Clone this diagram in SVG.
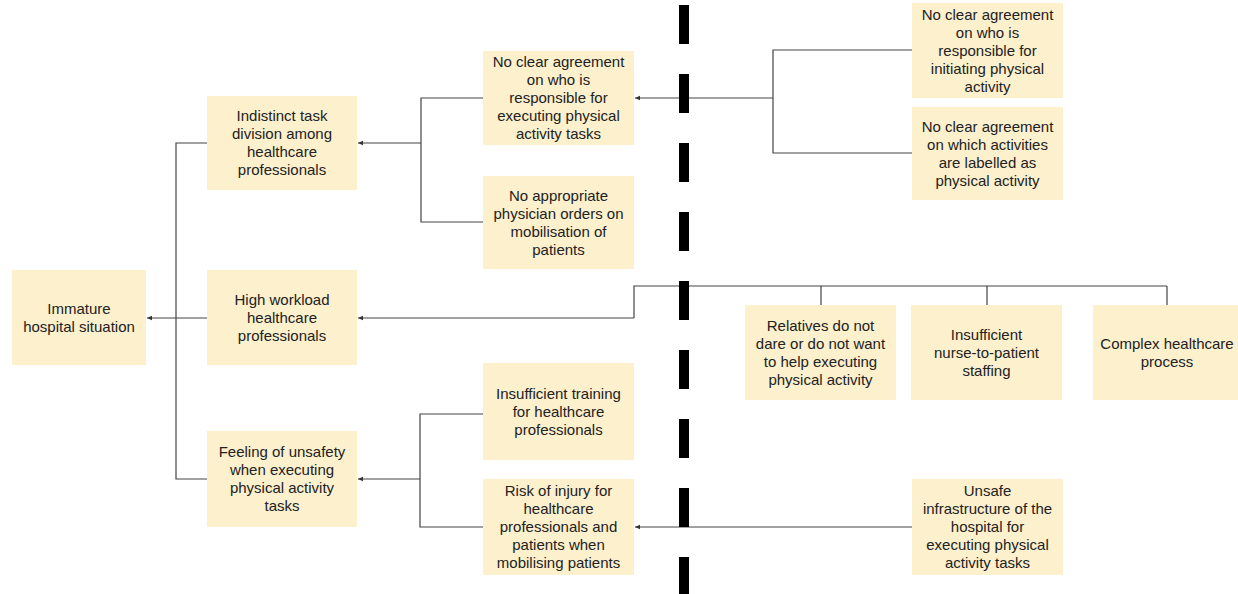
<svg xmlns="http://www.w3.org/2000/svg" width="1238" height="594" viewBox="0 0 1238 594">
<style>
.box{fill:#FCF0CD;}
.t{font-family:"Liberation Sans",Arial,sans-serif;font-size:15px;fill:#222;text-anchor:middle;}
.c{fill:none;stroke:#444;stroke-width:1.2;}
</style>
<defs>
<marker id="ah" markerWidth="6" markerHeight="6" refX="5" refY="3" orient="auto" markerUnits="userSpaceOnUse">
<path d="M0,0.8 L5,3 L0,5.2 Z" fill="#333"/>
</marker>
</defs>
<rect width="1238" height="594" fill="#fff"/>
<g id="connectors">
<path class="c" d="M207,143 H176 V479 H207"/>
<path class="c" d="M207,318 H147" marker-end="url(#ah)"/>
<path class="c" d="M483,98 H421 V222 H483"/>
<path class="c" d="M421,143 H358" marker-end="url(#ah)"/>
<path class="c" d="M912,50 H773 V153 H912"/>
<path class="c" d="M773,98 H635" marker-end="url(#ah)"/>
<path class="c" d="M821,305 V286 M987,305 V286 M1167,305 V286 M1167,286 H634 V318"/>
<path class="c" d="M634,318 H358" marker-end="url(#ah)"/>
<path class="c" d="M483,414 H420 V527 H483"/>
<path class="c" d="M420,479 H358" marker-end="url(#ah)"/>
<path class="c" d="M912,527 H635" marker-end="url(#ah)"/>
</g>
<g id="divider">
<line x1="684" y1="5" x2="684" y2="594" stroke="#000" stroke-width="10" stroke-dasharray="39 30"/>
</g>
<g id="immature">
<rect class="box" x="12" y="270" width="134" height="95"/>
<text class="t" x="79" y="313.5">Immature</text>
<text class="t" x="79" y="331.5">hospital situation</text>
</g>
<g id="indistinct">
<rect class="box" x="207" y="96" width="150" height="94"/>
<text class="t" x="282" y="121">Indistinct task</text>
<text class="t" x="282" y="139">division among</text>
<text class="t" x="282" y="157">healthcare</text>
<text class="t" x="282" y="175">professionals</text>
</g>
<g id="workload">
<rect class="box" x="207" y="270" width="150" height="95"/>
<text class="t" x="282" y="304.5">High workload</text>
<text class="t" x="282" y="322.5">healthcare</text>
<text class="t" x="282" y="340.5">professionals</text>
</g>
<g id="unsafety">
<rect class="box" x="207" y="431" width="150" height="96"/>
<text class="t" x="282" y="457">Feeling of unsafety</text>
<text class="t" x="282" y="475">when executing</text>
<text class="t" x="282" y="493">physical activity</text>
<text class="t" x="282" y="511">tasks</text>
</g>
<g id="executing">
<rect class="box" x="483" y="51" width="151" height="94"/>
<text class="t" x="558.5" y="67">No clear agreement</text>
<text class="t" x="558.5" y="85">on who is</text>
<text class="t" x="558.5" y="103">responsible for</text>
<text class="t" x="558.5" y="121">executing physical</text>
<text class="t" x="558.5" y="139">activity tasks</text>
</g>
<g id="physician">
<rect class="box" x="483" y="176" width="151" height="93"/>
<text class="t" x="558.5" y="200.5">No appropriate</text>
<text class="t" x="558.5" y="218.5">physician orders on</text>
<text class="t" x="558.5" y="236.5">mobilisation of</text>
<text class="t" x="558.5" y="254.5">patients</text>
</g>
<g id="training">
<rect class="box" x="483" y="363" width="151" height="97"/>
<text class="t" x="558.5" y="398.5">Insufficient training</text>
<text class="t" x="558.5" y="416.5">for healthcare</text>
<text class="t" x="558.5" y="434.5">professionals</text>
</g>
<g id="injury">
<rect class="box" x="483" y="479" width="151" height="96"/>
<text class="t" x="558.5" y="496">Risk of injury for</text>
<text class="t" x="558.5" y="514">healthcare</text>
<text class="t" x="558.5" y="532">professionals and</text>
<text class="t" x="558.5" y="550">patients when</text>
<text class="t" x="558.5" y="568">mobilising patients</text>
</g>
<g id="initiating">
<rect class="box" x="912" y="3" width="151" height="95"/>
<text class="t" x="987.5" y="19.5">No clear agreement</text>
<text class="t" x="987.5" y="37.5">on who is</text>
<text class="t" x="987.5" y="55.5">responsible for</text>
<text class="t" x="987.5" y="73.5">initiating physical</text>
<text class="t" x="987.5" y="91.5">activity</text>
</g>
<g id="labelled">
<rect class="box" x="912" y="107" width="151" height="93"/>
<text class="t" x="987.5" y="131.5">No clear agreement</text>
<text class="t" x="987.5" y="149.5">on which activities</text>
<text class="t" x="987.5" y="167.5">are labelled as</text>
<text class="t" x="987.5" y="185.5">physical activity</text>
</g>
<g id="relatives">
<rect class="box" x="745" y="305" width="151" height="95"/>
<text class="t" x="820.5" y="330.5">Relatives do not</text>
<text class="t" x="820.5" y="348.5">dare or do not want</text>
<text class="t" x="820.5" y="366.5">to help executing</text>
<text class="t" x="820.5" y="384.5">physical activity</text>
</g>
<g id="staffing">
<rect class="box" x="911" y="305" width="151" height="95"/>
<text class="t" x="986.5" y="339.5">Insufficient</text>
<text class="t" x="986.5" y="357.5">nurse-to-patient</text>
<text class="t" x="986.5" y="375.5">staffing</text>
</g>
<g id="complex">
<rect class="box" x="1093" y="305" width="145" height="95"/>
<text class="t" x="1167" y="348.5">Complex healthcare</text>
<text class="t" x="1167" y="366.5">process</text>
</g>
<g id="infrastructure">
<rect class="box" x="912" y="479" width="151" height="96"/>
<text class="t" x="987.5" y="496">Unsafe</text>
<text class="t" x="987.5" y="514">infrastructure of the</text>
<text class="t" x="987.5" y="532">hospital for</text>
<text class="t" x="987.5" y="550">executing physical</text>
<text class="t" x="987.5" y="568">activity tasks</text>
</g>
</svg>
